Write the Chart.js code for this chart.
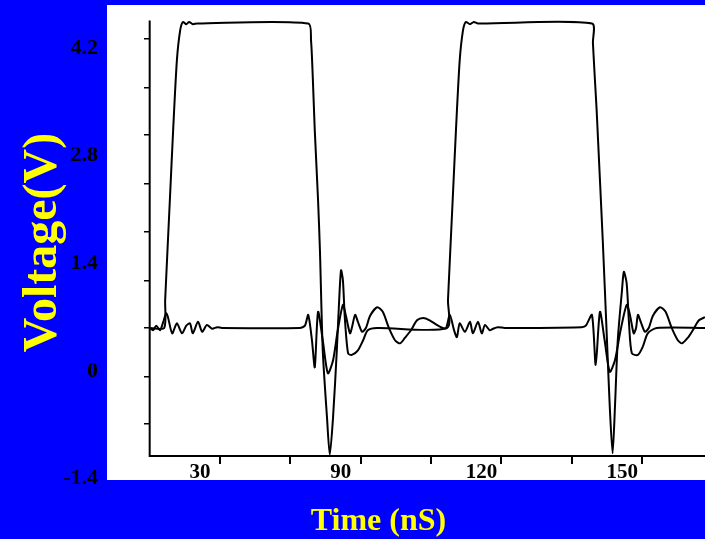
<!DOCTYPE html>
<html>
<head>
<meta charset="utf-8">
<script src="https://cdn.jsdelivr.net/npm/chart.js@4.4.1/dist/chart.umd.min.js"></script>
<style>
  html, body { margin: 0; padding: 0; background: #0000ff; }
  #wrap { width: 705px; height: 539px; }
</style>
</head>
<body>
<div id="wrap"><canvas id="myChart"></canvas></div>
<script>
// trace A: the pulse (ns / V)
const aTime = [45.1, 48.1, 48.3, 49.3, 50.0, 50.8, 51.5, 52.1, 52.8, 53.4, 54.2, 55.1,
  78.8, 79.4, 79.8, 80.2, 80.9, 81.3, 81.9, 82.8, 83.4, 84.1, 84.9, 85.4, 85.8, 86.2, 86.6,
  87.3, 88.1, 89.4, 90.5, 91.5, 93.5,
  108.4, 108.6, 109.6, 110.3, 111.1, 111.8, 112.4, 113.3, 114.1, 115.0,
  139.3, 139.5, 139.9, 140.3, 140.5, 141.6, 142.5, 143.1, 143.7, 144.2, 144.8, 145.7, 146.1,
  146.7, 147.2, 147.8, 149.1, 150.1, 151.2, 153.1, 163.4];
const aVolt = [0.56, 0.56, 0.92, 2.22, 3.13, 4.04, 4.43, 4.54, 4.51, 4.54, 4.51, 4.52,
  4.52, 4.30, 3.78, 3.13, 2.22, 1.57, 0.27, -0.60, -1.09, -0.60, 0.27, 0.92, 1.31, 1.18, 0.70,
  0.23, 0.21, 0.27, 0.40, 0.53, 0.56,
  0.56, 0.92, 2.22, 3.13, 4.04, 4.43, 4.54, 4.51, 4.54, 4.52,
  4.52, 4.27, 3.82, 3.39, 3.13, 1.70, 0.40, -0.47, -1.07, -0.47, 0.40, 1.05, 1.29,
  1.14, 0.62, 0.23, 0.21, 0.31, 0.49, 0.56, 0.56];

// trace B: the ringing line (ns / V)
const bTime = [45.1, 45.7, 46.4, 47.2, 47.9, 48.5, 48.9, 49.8, 50.8, 51.9, 52.8, 53.6, 54.2,
  55.3, 56.2, 57.2, 58.3, 59.4, 60.4,
  77.0, 78.1, 78.8, 79.6, 80.2, 80.9, 81.9, 83.0, 84.1, 85.1, 86.2, 86.8, 87.7, 88.1, 88.8,
  89.4, 90.3, 91.1, 92.0, 93.5, 94.7, 96.0, 97.3, 98.4, 99.4, 100.7, 102.0, 103.3, 104.7,
  106.2, 107.5, 108.2, 109.0, 109.9, 110.5, 111.1, 112.2, 113.3, 113.9, 115.0, 115.8, 116.5,
  117.5, 118.2, 119.2, 120.7,
  137.1, 138.0, 139.3, 140.1, 141.0, 142.0, 143.1, 144.2, 145.4, 146.7, 147.4, 148.2, 148.7,
  149.1, 149.7, 150.6, 151.4, 152.3, 153.8, 155.0, 156.3, 157.6, 158.5, 159.7, 160.8, 162.1, 163.4];
const bVolt = [0.56, 0.53, 0.59, 0.53, 0.64, 0.75, 0.70, 0.49, 0.62, 0.49, 0.59, 0.62, 0.49,
  0.64, 0.51, 0.60, 0.55, 0.57, 0.56,
  0.56, 0.59, 0.73, 0.40, 0.05, 0.77, 0.40, -0.03, 0.14, 0.53, 0.86, 0.73, 0.49, 0.56, 0.73,
  0.64, 0.51, 0.56, 0.72, 0.83, 0.77, 0.56, 0.40, 0.36, 0.43, 0.53, 0.66, 0.69, 0.66,
  0.60, 0.56, 0.56, 0.73, 0.53, 0.44, 0.62, 0.51, 0.64, 0.49, 0.64, 0.49, 0.60,
  0.53, 0.55, 0.57, 0.56,
  0.57, 0.59, 0.73, 0.08, 0.77, 0.40, -0.01, 0.14, 0.53, 0.86, 0.73, 0.49, 0.56,
  0.73, 0.64, 0.51, 0.56, 0.72, 0.83, 0.77, 0.56, 0.40, 0.36, 0.43, 0.53, 0.66, 0.70];

const xTickValues = [60, 75, 90, 105, 120, 135, 150];
const xTickLabels = ['30', '', '90', '', '120', '', '150'];
const yTickValues = [4.2, 2.8, 1.4, 0, -1.4];
const yTickLabels = ['4.2', '2.8', '1.4', '0', '-1.4'];
// small tick marks on the scanned voltage axis
const yMarkValues = [4.32, 3.69, 3.07, 2.44, 1.81, 1.18, 0.56, -0.07, -0.69];

const xMin = 35.9, xMax = 163.4;
const yMin = -1.417, yMax = 4.76;
const timeAxisAt = -1.105;   // volts
const voltAxisAt = 45;       // ns
const voltAxisTop = 4.56;

const serif = 'Liberation Serif, Times New Roman, serif';

const toPoints = (ts, vs) => ts.map((t, i) => ({x: t, y: vs[i]}));

// white plot panel
const plotBg = {
  id: 'plotBg',
  beforeDraw(chart) {
    const {ctx, chartArea: a} = chart;
    ctx.save();
    ctx.fillStyle = '#ffffff';
    ctx.fillRect(a.left, a.top, a.right - a.left, a.bottom - a.top);
    ctx.restore();
  }
};

// L shaped axis lines
const axisFrame = {
  id: 'axisFrame',
  afterDatasetsDraw(chart) {
    const {ctx, scales: {x, y}} = chart;
    const x0 = x.getPixelForValue(voltAxisAt);
    const y0 = y.getPixelForValue(timeAxisAt);
    ctx.save();
    ctx.strokeStyle = '#000';
    ctx.lineWidth = 2;
    ctx.beginPath();
    ctx.moveTo(x0, y.getPixelForValue(voltAxisTop));
    ctx.lineTo(x0, y0);
    ctx.lineTo(x.right, y0);
    ctx.stroke();
    ctx.restore();
  }
};

const noPad = ax => { ax.paddingTop = 0; ax.paddingBottom = 0; ax.paddingLeft = 0; ax.paddingRight = 0; };

const lineStyle = {
  borderColor: '#000',
  borderWidth: 2,
  pointRadius: 0,
  tension: 0.25,
  fill: false,
  xAxisID: 'x',
  yAxisID: 'y'
};

const ctx = document.getElementById('myChart').getContext('2d');

const chart = new Chart(ctx, {
  type: 'line',
  data: {
    datasets: [
      Object.assign({label: 'A', data: toPoints(aTime, aVolt)}, lineStyle),
      Object.assign({label: 'B', data: toPoints(bTime, bVolt)}, lineStyle)
    ]
  },
  options: {
    responsive: true,
    maintainAspectRatio: false,
    animation: false,
    layout: { padding: { left: 52, top: 5, right: 0, bottom: 0 } },
    scales: {
      x: {
        type: 'linear',
        min: xMin,
        max: xMax,
        position: { y: timeAxisAt },
        afterBuildTicks: ax => { ax.ticks = xTickValues.map(v => ({value: v})); },
        afterFit: noPad,
        border: { display: false },
        grid: { drawOnChartArea: false, drawTicks: true, tickLength: 8, color: '#000', lineWidth: 2 },
        ticks: {
          autoSkip: false,
          maxRotation: 0,
          padding: -2,
          labelOffset: -20,
          color: '#000',
          font: { family: serif, size: 21, weight: 'bold', lineHeight: 1 },
          callback: (v, i) => xTickLabels[i]
        }
      },
      y: {
        type: 'linear',
        position: 'left',
        min: yMin,
        max: yMax,
        afterBuildTicks: ax => { ax.ticks = yTickValues.map(v => ({value: v})); },
        afterFit: ax => { ax.width = 55; noPad(ax); },
        border: { display: false },
        grid: { display: false, drawTicks: false },
        ticks: {
          autoSkip: false,
          padding: 9,
          color: '#000',
          font: { family: serif, size: 22, weight: 'bold' },
          callback: (v, i) => yTickLabels[i]
        },
        title: {
          display: true,
          text: 'Voltage(V)',
          color: '#ffff00',
          font: { family: serif, size: 48, weight: 'bold', lineHeight: 1 },
          padding: { top: -32, bottom: 0 }
        }
      },
      yt: {
        type: 'linear',
        axis: 'y',
        min: yMin,
        max: yMax,
        position: { x: voltAxisAt },
        afterBuildTicks: ax => { ax.ticks = yMarkValues.map(v => ({value: v})); },
        afterFit: noPad,
        border: { display: false },
        grid: { drawOnChartArea: false, drawTicks: true, tickLength: 6, color: '#000', lineWidth: 1.5 },
        ticks: { display: false }
      }
    },
    plugins: {
      legend: { display: false },
      tooltip: { enabled: false },
      title: {
        display: true,
        text: 'Time (nS)',
        position: 'bottom',
        color: '#ffff00',
        font: { family: serif, size: 32, weight: 'bold', lineHeight: 1 },
        padding: { top: 26, bottom: 1 }
      }
    }
  },
  plugins: [plotBg, axisFrame]
});
</script>
</body>
</html>
